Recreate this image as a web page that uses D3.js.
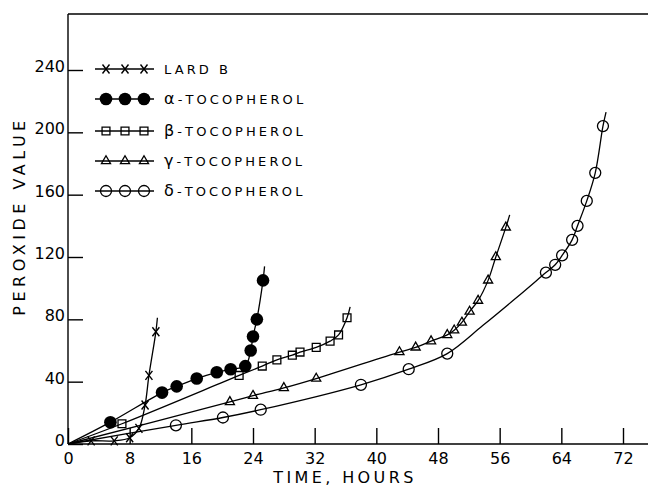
<!DOCTYPE html>
<html>
<head>
<meta charset="utf-8">
<script src="https://cdn.jsdelivr.net/npm/d3@7"></script>
<style>
  body { margin: 0; background: #fff; }
  svg text { font-family: "DejaVu Sans", sans-serif; fill: #000; }
</style>
</head>
<body>
<div id="chart"></div>
<script>

// legend labels, in drawing order
var seriesNames = ["LARD B", "\u03b1-TOCOPHEROL", "\u03b2-TOCOPHEROL", "\u03b3-TOCOPHEROL", "\u03b4-TOCOPHEROL"];
var markTypes = ["times", "dot", "square", "triangle", "circle"];

// [hours, peroxide value]
var lardB = [[3, 2], [6, 2], [8, 4], [9.2, 10], [10, 25], [10.5, 44], [11.4, 72]];
var alphaToc = [[5.5, 14], [12.2, 33], [14.1, 37], [16.7, 42], [19.3, 46], [21.1, 48], [23, 50],
                [23.7, 60], [24, 69], [24.5, 80], [25.3, 105]];
var betaToc = [[7, 13], [22.2, 44], [25.2, 50], [27.1, 54], [29.1, 57], [30.1, 59], [32.2, 62],
               [34, 66], [35.1, 70], [36.2, 81]];
var gammaToc = [[21, 27], [24, 31], [28, 36], [32.2, 42], [43, 59], [45.1, 62], [47.1, 66],
                [49.2, 70], [50.1, 73], [51.1, 78], [52.1, 85], [53.2, 92], [54.5, 105],
                [55.5, 120], [56.8, 139]];
var deltaToc = [[14, 12], [20.1, 17], [25, 22], [38, 38], [44.2, 48], [49.2, 58], [62, 110],
                [63.2, 115], [64.1, 121], [65.4, 131], [66.1, 140], [67.3, 156], [68.4, 174],
                [69.4, 204]];
// extra points on the hand-drawn curves where there are no markers
var curveExtras = [[], [], [], [], [[53.8, 76], [58.2, 94]]];
// where each drawn curve stops, a little past its last point
var curveEnds = [[11.6, 81], [25.5, 114], [36.6, 88], [57.3, 147], [69.8, 213]];

var xTicks = [0, 8, 16, 24, 32, 40, 48, 56, 64, 72];
var yTicks = [0, 40, 80, 120, 160, 200, 240];

var allSeries = [lardB, alphaToc, betaToc, gammaToc, deltaToc];

var width = 648, height = 490;
var svg = d3.select("#chart").append("svg")
    .attr("width", width)
    .attr("height", height);

var x = d3.scaleLinear().domain([0, 72]).range([68, 623]);
var y = d3.scaleLinear().domain([0, 240]).range([444, 70]);

// frame: top rule, left axis, bottom axis (both run off to the right edge)
svg.append("line").attr("x1", x(0)).attr("x2", width).attr("y1", 14).attr("y2", 14)
    .attr("stroke", "#000").attr("stroke-width", 1.6);
svg.append("line").attr("x1", x(0)).attr("x2", x(0)).attr("y1", 14).attr("y2", y(0))
    .attr("stroke", "#000").attr("stroke-width", 1.4);
svg.append("line").attr("x1", x(0)).attr("x2", width).attr("y1", y(0)).attr("y2", y(0))
    .attr("stroke", "#000").attr("stroke-width", 1.6);

var xAxis = svg.append("g")
    .attr("transform", "translate(0," + y(0) + ")")
    .call(d3.axisBottom(x).tickValues(xTicks).tickSize(-16).tickPadding(9).tickSizeOuter(0));
xAxis.select(".domain").remove();
xAxis.selectAll("line").attr("stroke-width", 1.4);
xAxis.selectAll("text").attr("font-size", 16).attr("font-family", "DejaVu Sans");

var yAxis = svg.append("g")
    .attr("transform", "translate(" + x(0) + ",0)")
    .call(d3.axisLeft(y).tickValues(yTicks).tickSize(-15).tickPadding(3).tickSizeOuter(0));
yAxis.select(".domain").remove();
yAxis.selectAll("line").attr("stroke-width", 1.4);
yAxis.selectAll("text").attr("font-size", 16).attr("font-family", "DejaVu Sans").attr("dy", "0.1em");

svg.append("text")
    .attr("transform", "translate(25,216) rotate(-90)")
    .attr("text-anchor", "middle")
    .style("font-size", "16px")
    .style("letter-spacing", "4.5px")
    .text("PEROXIDE VALUE");

svg.append("text")
    .attr("x", 345).attr("y", 483)
    .attr("text-anchor", "middle")
    .style("font-size", "16px")
    .style("letter-spacing", "3.4px")
    .text("TIME, HOURS");

// draws one marker of the given kind centred on (cx, cy)
function drawMark(g, type, cx, cy) {
  var m = g.append("g").attr("transform", "translate(" + cx + "," + cy + ")");
  if (type == "times") {
    m.append("path").attr("d", "M-3.5,-4.5L3.5,4.5M-3.5,4.5L3.5,-4.5")
      .attr("stroke", "#000").attr("stroke-width", 1.4).attr("fill", "none");
  } else if (type == "dot") {
    m.append("circle").attr("r", 6.3).attr("fill", "#000");
  } else if (type == "square") {
    m.append("path").attr("d", d3.symbol().type(d3.symbolSquare).size(62)())
      .attr("stroke", "#000").attr("stroke-width", 1.3).attr("fill", "none");
  } else if (type == "triangle") {
    m.append("path").attr("d", d3.symbol().type(d3.symbolTriangle).size(36)())
      .attr("stroke", "#000").attr("stroke-width", 1.3).attr("fill", "none");
  } else {
    m.append("circle").attr("r", 5.5)
      .attr("stroke", "#000").attr("stroke-width", 1.3).attr("fill", "none");
  }
}

var line = d3.line()
    .x(function(d) { return x(d[0]); })
    .y(function(d) { return y(d[1]); })
    .curve(d3.curveCatmullRom.alpha(0.5));

var plot = svg.append("g");
allSeries.forEach(function(pts, i) {
  var curve = [[0, 0]].concat(pts, curveExtras[i], [curveEnds[i]]);
  curve.sort(function(a, b) { return a[0] - b[0]; });
  plot.append("path")
    .attr("d", line(curve))
    .attr("fill", "none")
    .attr("stroke", "#000")
    .attr("stroke-width", 1.3);
  pts.forEach(function(p) {
    drawMark(plot, markTypes[i], x(p[0]), y(p[1]));
  });
});

// legend in the upper left
var legend = svg.append("g");
var legendRows = [69, 99, 131, 161, 191];
seriesNames.forEach(function(name, i) {
  var ly = legendRows[i];
  legend.append("line")
    .attr("x1", 95).attr("x2", 154).attr("y1", ly).attr("y2", ly)
    .attr("stroke", "#000").attr("stroke-width", 1.3);
  [106, 125, 144].forEach(function(lx) {
    drawMark(legend, markTypes[i], lx, ly);
  });
  var t = legend.append("text")
    .attr("x", 164).attr("y", ly + 5)
    .style("font-size", "13px")
    .style("letter-spacing", "3.1px");
  // greek prefix is lettered larger than the rest in the original
  if (i > 0) {
    t.append("tspan").style("font-size", "16px").text(name.charAt(0));
    t.append("tspan").text(name.slice(1));
  } else {
    t.text(name);
  }
});
</script>
</body>
</html>
